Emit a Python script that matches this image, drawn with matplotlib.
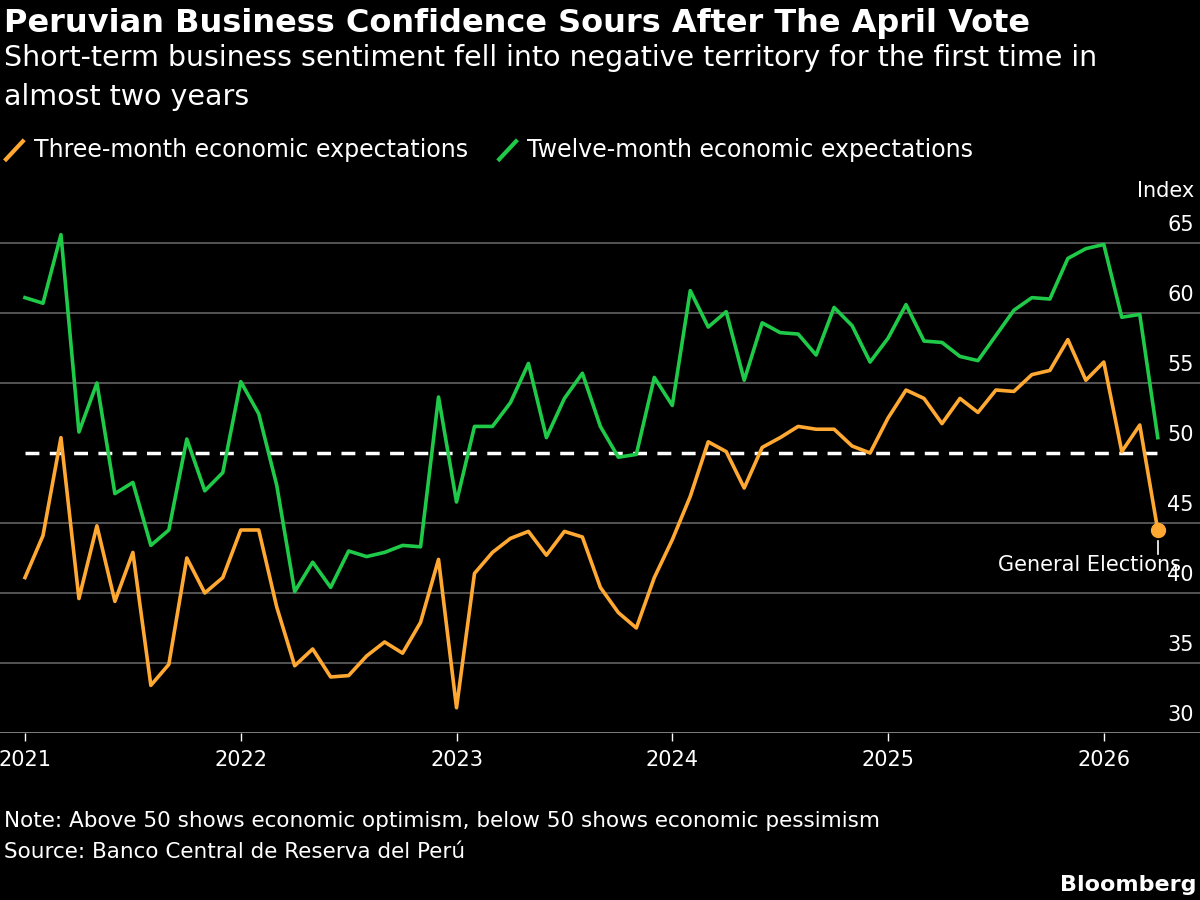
import numpy as np
import matplotlib.pyplot as plt
from matplotlib.transforms import blended_transform_factory

plt.rcParams['font.family'] = ['DejaVu Sans']

# Monthly, Jan 2021 - Apr 2026
twelve_month = [61.1, 60.7, 65.6, 51.5, 55.0, 47.1, 47.9, 43.4, 44.5, 51.0, 47.3, 48.6,
                55.1, 52.8, 47.7, 40.1, 42.2, 40.4, 43.0, 42.6, 42.9, 43.4, 43.3, 54.0,
                46.5, 51.9, 51.9, 53.6, 56.4, 51.1, 53.9, 55.7, 51.9, 49.7, 49.9, 55.4,
                53.4, 61.6, 59.0, 60.1, 55.2, 59.3, 58.6, 58.5, 57.0, 60.4, 59.1, 56.5,
                58.2, 60.6, 58.0, 57.9, 56.9, 56.6, 58.4, 60.2, 61.1, 61.0, 63.9, 64.6,
                64.9, 59.7, 59.9, 51.1]
three_month = [41.1, 44.1, 51.1, 39.6, 44.8, 39.4, 42.9, 33.4, 34.9, 42.5, 40.0, 41.1,
               44.5, 44.5, 39.0, 34.8, 36.0, 34.0, 34.1, 35.5, 36.5, 35.7, 37.9, 42.4,
               31.8, 41.4, 42.9, 43.9, 44.4, 42.7, 44.4, 44.0, 40.4, 38.6, 37.5, 41.1,
               43.8, 46.9, 50.8, 50.1, 47.5, 50.4, 51.1, 51.9, 51.7, 51.7, 50.5, 50.0,
               52.5, 54.5, 53.9, 52.1, 53.9, 52.9, 54.5, 54.4, 55.6, 55.9, 58.1, 55.2,
               56.5, 50.1, 52.0, 44.5]
years = [2021, 2022, 2023, 2024, 2025, 2026]
y_ticks = [30, 35, 40, 45, 50, 55, 60, 65]

orange = '#ffa832'
green = '#1fca48'
grid = '#5a5a5a'

months = np.arange(len(three_month))

fig = plt.figure(figsize=(12, 9), dpi=100, facecolor='black')
ax = fig.add_axes([0, 0.1856, 1, 0.5588], facecolor='black')
ax.set_xlim(-1.39, 65.35)
ax.set_ylim(30, 65.93)

for v in y_ticks[1:]:
    if v != 50:
        ax.axhline(v, color=grid, lw=1.3, zorder=1)
ax.axhline(30, color='#888888', lw=1.3, zorder=1)
ax.plot([0, len(months) - 1], [50, 50], color='white', lw=2.5, ls=(0, (4, 3)), zorder=2)

ax.plot(months, twelve_month, color=green, lw=2.6, zorder=3)
ax.plot(months, three_month, color=orange, lw=2.6, zorder=3)
ax.plot(months[-1], three_month[-1], 'o', color=orange, ms=10, zorder=4)
ax.plot([months[-1], months[-1]], [three_month[-1] - 0.8, three_month[-1] - 1.7],
        color='white', lw=1.2)
ax.text(months[-1] + 1.3, three_month[-1] - 1.8, 'General Elections', color='white',
        fontsize=15, ha='right', va='top')

trans = blended_transform_factory(ax.transAxes, ax.transData)
for v in y_ticks:
    ax.text(0.995, v + 0.6, str(v), color='white', fontsize=15, ha='right',
            va='bottom', transform=trans)
ax.text(0.995, 68.0, 'Index', color='white', fontsize=15, ha='right', va='bottom',
        transform=trans, clip_on=False)

for s in ax.spines.values():
    s.set_visible(False)
ax.set_yticks([])
ax.set_xticks([(y - 2021) * 12 for y in years])
ax.set_xticklabels([str(y) for y in years], color='white', fontsize=15)
ax.tick_params(axis='x', colors='white', length=6, width=1, pad=6, labelcolor='white')

fig.text(0.003, 0.974, 'Peruvian Business Confidence Sours After The April Vote',
         color='white', fontsize=23, fontweight='bold', va='center')
fig.text(0.003, 0.935, 'Short-term business sentiment fell into negative territory for the first time in',
         color='white', fontsize=20.5, va='center')
fig.text(0.003, 0.892, 'almost two years', color='white', fontsize=20.5, va='center')

fig.lines.append(plt.Line2D([0.005, 0.019], [0.823, 0.843], color=orange, lw=3,
                            transform=fig.transFigure))
fig.text(0.028, 0.833, 'Three-month economic expectations', color='white', fontsize=17, va='center')
fig.lines.append(plt.Line2D([0.416, 0.430], [0.823, 0.843], color=green, lw=3,
                            transform=fig.transFigure))
fig.text(0.439, 0.833, 'Twelve-month economic expectations', color='white', fontsize=17, va='center')

fig.text(0.003, 0.088, 'Note: Above 50 shows economic optimism, below 50 shows economic pessimism',
         color='white', fontsize=15.5, va='center')
fig.text(0.003, 0.053, 'Source: Banco Central de Reserva del Perú', color='white',
         fontsize=15.5, va='center')
fig.text(0.997, 0.017, 'Bloomberg', color='white', fontsize=16, fontweight='bold',
         ha='right', va='center')

fig.savefig('out.png', facecolor='black')
